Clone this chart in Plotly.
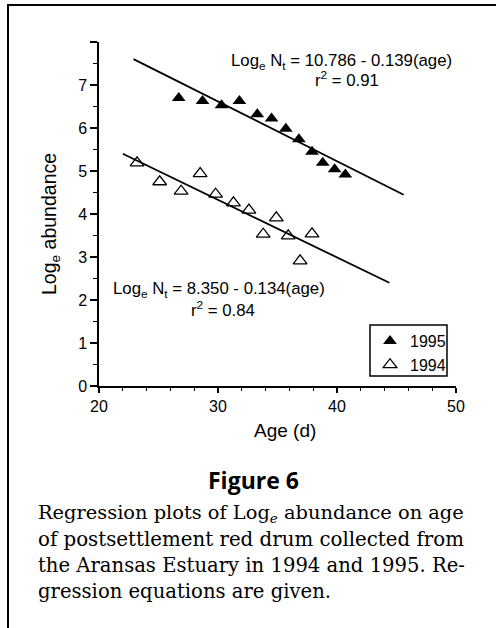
import plotly.graph_objects as go

# ---- data ----
age_1995 = [26.7, 28.7, 30.3, 31.8, 33.3, 34.5, 35.7, 36.8, 37.9, 38.8, 39.8, 40.7]
log_1995 = [6.70, 6.63, 6.53, 6.63, 6.32, 6.22, 5.98, 5.74, 5.45, 5.19, 5.04, 4.92]

age_1994 = [23.2, 25.1, 26.9, 28.5, 29.8, 31.3, 32.6, 33.8, 34.9, 35.9, 36.9, 37.9]
log_1994 = [5.19, 4.75, 4.53, 4.94, 4.46, 4.26, 4.09, 3.53, 3.91, 3.49, 2.91, 3.54]

# regression equations given on the chart: intercept, slope, drawn age extent
reg_1995 = dict(a=10.786, b=-0.139, x=[22.9, 45.6])
reg_1994 = dict(a=8.350, b=-0.134, x=[22.0, 44.4])

x_ticks = [20, 30, 40, 50]
y_ticks = [0, 1, 2, 3, 4, 5, 6, 7, 8]
y_ticktext = ["0", "1", "2", "3", "4", "5", "6", "7", ""]

caption_lines = [
    "Regression plots of Log<sub><i>e</i></sub> abundance on age",
    "of postsettlement red drum collected from",
    "the Aransas Estuary in 1994 and 1995. Re-",
    "gression equations are given.",
]

# ---- layout geometry ----
W, H = 496, 628
L, R, T, B = 99, 40, 42, 242
PW, PH = W - L - R, H - T - B


def px(xp):
    return (xp - L) / PW


def py(yp):
    return (H - B - yp) / PH


SANS = "Liberation Sans, Arial, Helvetica, sans-serif"
SERIF = "DejaVu Serif, serif"

fig = go.Figure()

fig.add_trace(go.Scatter(
    x=age_1995, y=log_1995, mode="markers", name="1995",
    marker=dict(symbol="triangle-up", size=12, color="black",
                line=dict(width=0)),
))
fig.add_trace(go.Scatter(
    x=age_1994, y=log_1994, mode="markers", name="1994",
    marker=dict(symbol="triangle-up-open", size=12, color="black",
                line=dict(width=1.3)),
))
for reg in (reg_1995, reg_1994):
    fig.add_trace(go.Scatter(
        x=reg["x"], y=[reg["a"] + reg["b"] * v for v in reg["x"]],
        mode="lines", line=dict(color="black", width=1.8),
        showlegend=False, hoverinfo="skip",
    ))

ann = []
ann.append(dict(x=px(341), y=py(61), text="Log<sub>e</sub> N<sub>t</sub> = 10.786 - 0.139(age)",
                font=dict(size=16.8, family=SANS, color="black")))
ann.append(dict(x=px(346.7), y=py(79), text="r<sup>2</sup> = 0.91",
                font=dict(size=16.8, family=SANS, color="black")))
ann.append(dict(x=px(218.5), y=py(289), text="Log<sub>e</sub> N<sub>t</sub> = 8.350 - 0.134(age)",
                font=dict(size=16.8, family=SANS, color="black")))
ann.append(dict(x=px(222.5), y=py(309), text="r<sup>2</sup> = 0.84",
                font=dict(size=16.8, family=SANS, color="black")))
# y axis title
ann.append(dict(x=px(50), y=py(224), text="Log<sub>e</sub> abundance", textangle=-90,
                font=dict(size=19.5, family=SANS, color="black")))
# x axis title
ann.append(dict(x=px(285), y=py(430), text="Age (d)",
                font=dict(size=19, family=SANS, color="black")))
# caption
ann.append(dict(x=px(253), y=py(480), text="<b>Figure 6</b>",
                font=dict(size=23, family="Open Sans, sans-serif", color="black")))
cap_sizes = [19.4, 19.8, 19.6, 19.6]
for i, line in enumerate(caption_lines):
    ann.append(dict(x=px(36), y=py(513 + 26 * i), text=line, xanchor="left",
                    font=dict(size=cap_sizes[i], family=SERIF, color="black")))

for a in ann:
    a.update(xref="paper", yref="paper", showarrow=False)
    a.setdefault("xanchor", "center")
    a.setdefault("yanchor", "middle")

shapes = [
    dict(type="line", xref="paper", yref="paper", x0=px(8), x1=px(W + 2), y0=py(5), y1=py(5),
         line=dict(color="black", width=2)),
    dict(type="line", xref="paper", yref="paper", x0=px(8), x1=px(8), y0=py(4), y1=py(H + 2),
         line=dict(color="black", width=2)),
    # legend frame
    dict(type="rect", xref="paper", yref="paper", x0=px(370), x1=px(447), y0=py(376), y1=py(325),
         line=dict(color="black", width=1.5), fillcolor="rgba(0,0,0,0)", layer="above"),
]

fig.update_layout(
    width=W, height=H,
    margin=dict(l=L, r=R, t=T, b=B, pad=0),
    paper_bgcolor="white", plot_bgcolor="white",
    annotations=ann, shapes=shapes,
    showlegend=True,
    legend=dict(x=px(370), y=py(324), xanchor="left", yanchor="top",
                borderwidth=0, bgcolor="rgba(0,0,0,0)",
                font=dict(size=16, family=SANS, color="black"),
                itemwidth=30, tracegroupgap=0),
    font=dict(family=SANS, color="black"),
)

fig.update_xaxes(
    range=[20, 50], showgrid=False, zeroline=False,
    showline=True, linecolor="black", linewidth=1.5,
    tickmode="array", tickvals=x_ticks,
    ticks="outside", ticklen=5, tickwidth=1.5, tickcolor="black",
    tickfont=dict(size=16, family=SANS, color="black"),
    minor=dict(dtick=2, tick0=20, ticks="outside", ticklen=3, tickwidth=1.3, tickcolor="black", showgrid=False),
)
fig.update_yaxes(
    range=[0, 8], showgrid=False, zeroline=False,
    showline=True, linecolor="black", linewidth=1.5,
    tickmode="array", tickvals=y_ticks, ticktext=y_ticktext,
    ticks="outside", ticklen=7, tickwidth=1.5, tickcolor="black",
    tickfont=dict(size=16, family=SANS, color="black"),
    minor=dict(dtick=0.5, tick0=0, ticks="outside", ticklen=4, tickwidth=1.3, tickcolor="black", showgrid=False),
)

fig.write_html("out.html")
